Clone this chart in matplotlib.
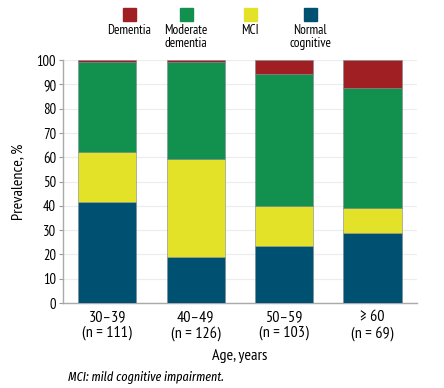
import matplotlib
matplotlib.use("Agg")
import matplotlib.pyplot as plt
import numpy as np
from matplotlib.patches import Rectangle

plt.rcParams['font.family'] = ['PT Sans Narrow', 'DejaVu Sans']

# data (percent of each age group)
groups = ['30\u201339\n(n = 111)', '40\u201349\n(n = 126)',
          '50\u201359\n(n = 103)', '\u2265 60\n(n = 69)']
normal = [41.4, 19.0, 23.3, 29.0]
mci = [20.7, 40.5, 16.5, 10.1]
moderate = [37.0, 39.7, 54.4, 49.3]
dementia = [0.9, 0.8, 5.8, 11.6]

series = ['Dementia', 'Moderate\ndementia', 'MCI', 'Normal\ncognitive']
colors = ['#A01F23', '#12914E', '#E3E228', '#005072']

fig = plt.figure(figsize=(4.44, 3.88), dpi=100)
ax = fig.add_axes([0.142, 0.219, 0.797, 0.626])

x = np.arange(len(groups))
w = 0.66
bottom = np.zeros(len(groups))
stack = [normal, mci, moderate, dementia]
stack_colors = colors[::-1]
for vals, c in zip(stack, stack_colors):
    ax.bar(x, vals, w, bottom=bottom, color=c, edgecolor='#7a8a90', linewidth=0.4, zorder=3)
    bottom += np.array(vals)

ax.set_xlim(-0.5, 3.5)
ax.set_ylim(0, 100)
ax.set_yticks(range(0, 101, 10))
ax.set_xticks(x)
ax.set_xticklabels(groups, fontsize=11.5, linespacing=1.15)
ax.tick_params(axis='y', labelsize=10.5, length=3, color='#999999', pad=2)
ax.tick_params(axis='x', length=0, pad=5)
ax.yaxis.grid(True, color='#ececec', linewidth=0.8, zorder=0)
for s in ['top', 'right']:
    ax.spines[s].set_visible(False)
for s in ['left', 'bottom']:
    ax.spines[s].set_color('#aaaaaa')
    ax.spines[s].set_linewidth(1.0)

ax.set_ylabel('Prevalence, %', fontsize=11.5, labelpad=8)
ax.set_xlabel('Age, years', fontsize=11.5, labelpad=6)

# legend on top, swatch above label
leg_x = [129 / 444, 186 / 444, 250 / 444, 310 / 444]
sw = 13 / 444
sh = 13 / 388
for lx, lab, c in zip(leg_x, series, colors):
    fig.add_artist(Rectangle((lx - sw / 2, 1 - 21 / 388), sw, sh,
                             transform=fig.transFigure, color=c))
    fig.text(lx, 1 - 24 / 388, lab, ha='center', va='top', fontsize=9.5,
             linespacing=1.0)

fig.text(68 / 444, 1 - 377 / 388, 'MCI: mild cognitive impairment.',
         fontsize=9.5, style='italic', va='center',
         family=['Fira Sans Extra Condensed', 'DejaVu Sans'])

fig.savefig('out.png', dpi=100)
